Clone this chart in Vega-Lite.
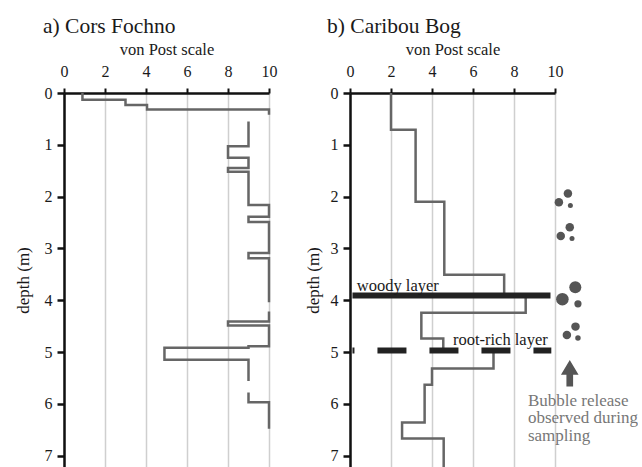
{
  "$schema": "https://vega.github.io/schema/vega-lite/v6.json",
  "padding": {"left": 14, "top": 15, "right": 0, "bottom": 0},
  "background": "white",
  "spacing": 27,
  "config": {
    "font": "Liberation Serif",
    "view": {"stroke": null},
    "axis": {
      "labelFont": "Liberation Serif",
      "titleFont": "Liberation Serif",
      "labelColor": "#1a1a1a",
      "titleColor": "#1a1a1a",
      "domainColor": "#111",
      "tickColor": "#111",
      "labelFontSize": 16,
      "titleFontSize": 16.5,
      "titleFontWeight": "normal"
    },
    "title": {"font": "Liberation Serif", "fontSize": 21.5, "fontWeight": "normal", "anchor": "start", "color": "#1a1a1a", "frame": "group"}
  },
  "datasets": {
    "steps": [
      {"site": "a", "seg": 1, "i": 1, "v": 0.9, "d": 0},
      {"site": "a", "seg": 1, "i": 2, "v": 0.9, "d": 0.13},
      {"site": "a", "seg": 1, "i": 3, "v": 3.0, "d": 0.13},
      {"site": "a", "seg": 1, "i": 4, "v": 3.0, "d": 0.23},
      {"site": "a", "seg": 1, "i": 5, "v": 4.05, "d": 0.23},
      {"site": "a", "seg": 1, "i": 6, "v": 4.05, "d": 0.32},
      {"site": "a", "seg": 1, "i": 7, "v": 10, "d": 0.32},
      {"site": "a", "seg": 1, "i": 8, "v": 10, "d": 0.42},
      {"site": "a", "seg": 2, "i": 1, "v": 9, "d": 0.55},
      {"site": "a", "seg": 2, "i": 2, "v": 9, "d": 1.03},
      {"site": "a", "seg": 2, "i": 3, "v": 8, "d": 1.03},
      {"site": "a", "seg": 2, "i": 4, "v": 8, "d": 1.25},
      {"site": "a", "seg": 2, "i": 5, "v": 9, "d": 1.25},
      {"site": "a", "seg": 2, "i": 6, "v": 9, "d": 1.45},
      {"site": "a", "seg": 2, "i": 7, "v": 8, "d": 1.45},
      {"site": "a", "seg": 2, "i": 8, "v": 8, "d": 1.52},
      {"site": "a", "seg": 2, "i": 9, "v": 9, "d": 1.52},
      {"site": "a", "seg": 2, "i": 10, "v": 9, "d": 2.16},
      {"site": "a", "seg": 2, "i": 11, "v": 10, "d": 2.16},
      {"site": "a", "seg": 2, "i": 12, "v": 10, "d": 2.39},
      {"site": "a", "seg": 2, "i": 13, "v": 9, "d": 2.39},
      {"site": "a", "seg": 2, "i": 14, "v": 9, "d": 2.49},
      {"site": "a", "seg": 2, "i": 15, "v": 10, "d": 2.49},
      {"site": "a", "seg": 2, "i": 16, "v": 10, "d": 3.09},
      {"site": "a", "seg": 2, "i": 17, "v": 9, "d": 3.09},
      {"site": "a", "seg": 2, "i": 18, "v": 9, "d": 3.19},
      {"site": "a", "seg": 2, "i": 19, "v": 10, "d": 3.19},
      {"site": "a", "seg": 2, "i": 20, "v": 10, "d": 4.04},
      {"site": "a", "seg": 3, "i": 1, "v": 10, "d": 4.22},
      {"site": "a", "seg": 3, "i": 2, "v": 10, "d": 4.41},
      {"site": "a", "seg": 3, "i": 3, "v": 8, "d": 4.41},
      {"site": "a", "seg": 3, "i": 4, "v": 8, "d": 4.49},
      {"site": "a", "seg": 3, "i": 5, "v": 10, "d": 4.49},
      {"site": "a", "seg": 3, "i": 6, "v": 10, "d": 4.89},
      {"site": "a", "seg": 3, "i": 7, "v": 9, "d": 4.89},
      {"site": "a", "seg": 3, "i": 8, "v": 9, "d": 4.92},
      {"site": "a", "seg": 3, "i": 9, "v": 4.9, "d": 4.92},
      {"site": "a", "seg": 3, "i": 10, "v": 4.9, "d": 5.15},
      {"site": "a", "seg": 3, "i": 11, "v": 9, "d": 5.15},
      {"site": "a", "seg": 3, "i": 12, "v": 9, "d": 5.56},
      {"site": "a", "seg": 4, "i": 1, "v": 9, "d": 5.78},
      {"site": "a", "seg": 4, "i": 2, "v": 9, "d": 5.97},
      {"site": "a", "seg": 4, "i": 3, "v": 10, "d": 5.97},
      {"site": "a", "seg": 4, "i": 4, "v": 10, "d": 6.48},
      {"site": "b", "seg": 1, "i": 1, "v": 2.0, "d": 0},
      {"site": "b", "seg": 1, "i": 2, "v": 2.0, "d": 0.71},
      {"site": "b", "seg": 1, "i": 3, "v": 3.2, "d": 0.71},
      {"site": "b", "seg": 1, "i": 4, "v": 3.2, "d": 2.1},
      {"site": "b", "seg": 1, "i": 5, "v": 4.6, "d": 2.1},
      {"site": "b", "seg": 1, "i": 6, "v": 4.6, "d": 3.51},
      {"site": "b", "seg": 1, "i": 7, "v": 7.52, "d": 3.51},
      {"site": "b", "seg": 1, "i": 8, "v": 7.52, "d": 3.9},
      {"site": "b", "seg": 1, "i": 9, "v": 8.57, "d": 3.9},
      {"site": "b", "seg": 1, "i": 10, "v": 8.57, "d": 4.24},
      {"site": "b", "seg": 1, "i": 11, "v": 3.48, "d": 4.24},
      {"site": "b", "seg": 1, "i": 12, "v": 3.48, "d": 4.74},
      {"site": "b", "seg": 1, "i": 13, "v": 4.55, "d": 4.74},
      {"site": "b", "seg": 1, "i": 14, "v": 4.55, "d": 4.97},
      {"site": "b", "seg": 2, "i": 1, "v": 7.0, "d": 4.97},
      {"site": "b", "seg": 2, "i": 2, "v": 7.0, "d": 5.32},
      {"site": "b", "seg": 2, "i": 3, "v": 4.0, "d": 5.32},
      {"site": "b", "seg": 2, "i": 4, "v": 4.0, "d": 5.63},
      {"site": "b", "seg": 2, "i": 5, "v": 3.64, "d": 5.63},
      {"site": "b", "seg": 2, "i": 6, "v": 3.64, "d": 6.36},
      {"site": "b", "seg": 2, "i": 7, "v": 2.54, "d": 6.36},
      {"site": "b", "seg": 2, "i": 8, "v": 2.54, "d": 6.67},
      {"site": "b", "seg": 2, "i": 9, "v": 4.57, "d": 6.67},
      {"site": "b", "seg": 2, "i": 10, "v": 4.57, "d": 7.22}
    ],
    "layers": [
      {"name": "woody layer", "x": 0.12, "x2": 9.78, "d": 3.91, "dashed": "no"},
      {"name": "root-rich layer", "x": 0.12, "x2": 9.82, "d": 4.97, "dashed": "yes"}
    ],
    "labels": [
      {"label": "woody layer", "x": 0.33, "d": 3.82},
      {"label": "root-rich layer", "x": 5.02, "d": 4.86}
    ],
    "bubbles": [
      {"x": 10.63, "d": 1.94, "area": 72},
      {"x": 10.19, "d": 2.11, "area": 72},
      {"x": 10.75, "d": 2.17, "area": 25},
      {"x": 10.72, "d": 2.59, "area": 72},
      {"x": 10.28, "d": 2.76, "area": 72},
      {"x": 10.83, "d": 2.81, "area": 25},
      {"x": 10.99, "d": 3.75, "area": 145},
      {"x": 10.36, "d": 3.98, "area": 158},
      {"x": 11.12, "d": 4.07, "area": 52},
      {"x": 11.0, "d": 4.51, "area": 72},
      {"x": 10.58, "d": 4.67, "area": 72},
      {"x": 11.12, "d": 4.73, "area": 30}
    ],
    "arrow": [{"x": 10.72, "d": 5.41}],
    "note": [{"text": "Bubble release\nobserved during\nsampling", "x": 8.68, "d": 5.79}]
  },
  "hconcat": [
    {
      "width": 205,
      "height": 374,
      "title": {"text": "a) Cors Fochno", "dx": -21, "offset": 4},
      "data": {"name": "steps"},
      "transform": [{"filter": "datum.site === 'a'"}],
      "mark": {"type": "line", "color": "#666", "strokeWidth": 2.5, "strokeJoin": "miter", "strokeCap": "butt"},
      "encoding": {
        "x": {"field": "v", "type": "quantitative",
          "scale": {"domain": [0, 10], "nice": false, "zero": false},
          "axis": {"orient": "top", "title": "von Post scale", "values": [0, 2, 4, 6, 8, 10], "grid": true, "gridColor": "#cfcfcf", "gridWidth": 1.5, "domainWidth": 2.5, "tickSize": 5, "tickWidth": 2, "labelPadding": 9, "titlePadding": 6, "labelFlush": false}},
        "y": {"field": "d", "type": "quantitative",
          "scale": {"domain": [0, 7.22], "nice": false, "zero": false, "reverse": true},
          "axis": {"title": "depth (m)", "titleFontSize": 17, "values": [0, 1, 2, 3, 4, 5, 6, 7], "grid": false, "domainWidth": 2.5, "tickSize": 7, "tickWidth": 2.5, "labelPadding": 5, "titlePadding": 12}},
        "detail": {"field": "seg", "type": "nominal"},
        "order": {"field": "i", "type": "quantitative"}
      }
    },
    {
      "width": 205,
      "height": 374,
      "title": {"text": "b) Caribou Bog", "dx": -23, "offset": 4},
      "encoding": {
        "x": {"type": "quantitative",
          "scale": {"domain": [0, 10], "nice": false, "zero": false},
          "axis": {"orient": "top", "title": "von Post scale", "values": [0, 2, 4, 6, 8, 10], "grid": true, "gridColor": "#cfcfcf", "gridWidth": 1.5, "domainWidth": 2.5, "tickSize": 5, "tickWidth": 2, "labelPadding": 9, "titlePadding": 6, "labelFlush": false}},
        "y": {"type": "quantitative",
          "scale": {"domain": [0, 7.22], "nice": false, "zero": false, "reverse": true},
          "axis": {"title": "depth (m)", "titleFontSize": 17, "values": [0, 1, 2, 3, 4, 5, 6, 7], "grid": false, "domainWidth": 2.5, "tickSize": 7, "tickWidth": 2.5, "labelPadding": 5, "titlePadding": 8}}
      },
      "layer": [
        {
          "data": {"name": "steps"},
          "transform": [{"filter": "datum.site === 'b'"}],
          "mark": {"type": "line", "color": "#666", "strokeWidth": 2.5, "strokeJoin": "miter", "strokeCap": "butt"},
          "encoding": {
            "x": {"field": "v", "type": "quantitative"},
            "y": {"field": "d", "type": "quantitative"},
            "detail": {"field": "seg", "type": "nominal"},
            "order": {"field": "i", "type": "quantitative"}
          }
        },
        {
          "data": {"name": "layers"},
          "transform": [{"filter": "datum.dashed === 'no'"}],
          "mark": {"type": "rule", "color": "#222", "strokeWidth": 6, "strokeCap": "butt"},
          "encoding": {
            "x": {"field": "x", "type": "quantitative"},
            "x2": {"field": "x2"},
            "y": {"field": "d", "type": "quantitative"}
          }
        },
        {
          "data": {"name": "layers"},
          "transform": [{"filter": "datum.dashed === 'yes'"}],
          "mark": {"type": "rule", "color": "#222", "strokeWidth": 6, "strokeCap": "butt", "strokeDash": [29, 23], "strokeDashOffset": 27},
          "encoding": {
            "x": {"field": "x", "type": "quantitative"},
            "x2": {"field": "x2"},
            "y": {"field": "d", "type": "quantitative"}
          }
        },
        {
          "data": {"name": "labels"},
          "mark": {"type": "text", "align": "left", "baseline": "alphabetic", "fontSize": 16.5, "color": "#1a1a1a", "font": "Liberation Serif"},
          "encoding": {
            "x": {"field": "x", "type": "quantitative"},
            "y": {"field": "d", "type": "quantitative"},
            "text": {"field": "label"}
          }
        },
        {
          "data": {"name": "bubbles"},
          "mark": {"type": "circle", "color": "#555", "opacity": 1},
          "encoding": {
            "x": {"field": "x", "type": "quantitative"},
            "y": {"field": "d", "type": "quantitative"},
            "size": {"field": "area", "type": "quantitative", "scale": null}
          }
        },
        {
          "data": {"name": "arrow"},
          "mark": {"type": "point", "filled": true, "color": "#555", "opacity": 1, "size": 713, "shape": "M0,-1L0.66,0.12L0.25,0.12L0.25,1L-0.25,1L-0.25,0.12L-0.66,0.12Z"},
          "encoding": {
            "x": {"field": "x", "type": "quantitative"},
            "y": {"field": "d", "type": "quantitative"}
          }
        },
        {
          "data": {"name": "note"},
          "mark": {"type": "text", "align": "left", "baseline": "top", "fontSize": 17, "lineHeight": 17.5, "lineBreak": "\n", "color": "#777", "font": "Liberation Serif"},
          "encoding": {
            "x": {"field": "x", "type": "quantitative"},
            "y": {"field": "d", "type": "quantitative"},
            "text": {"field": "text"}
          }
        }
      ]
    }
  ]
}
